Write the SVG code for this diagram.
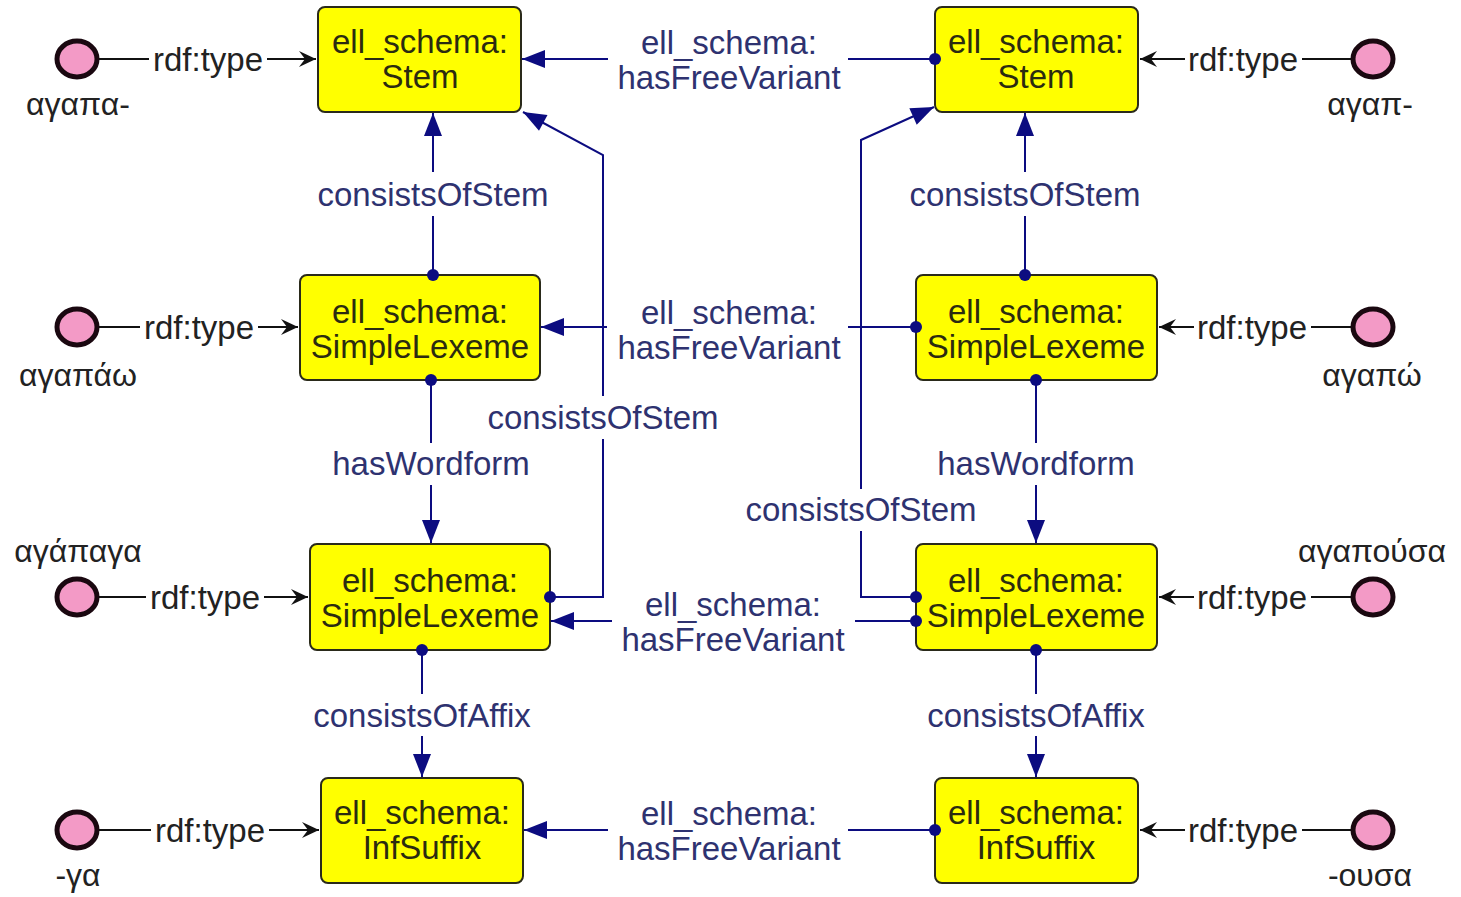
<svg xmlns="http://www.w3.org/2000/svg" width="1461" height="897" viewBox="0 0 1461 897">
<style>
.box{fill:#ffff00;stroke:#2a2a1a;stroke-width:2}
.nt{font-family:"Liberation Sans",Arial,sans-serif;font-size:33px;fill:#2b2b10;text-anchor:middle}
.el{font-family:"Liberation Sans",Arial,sans-serif;font-size:33px;fill:#2e3270;text-anchor:middle}
.rt{font-family:"Liberation Sans",Arial,sans-serif;font-size:33px;fill:#222;text-anchor:middle}
.gl{font-family:"Liberation Sans","Noto Sans",sans-serif;font-size:32px;fill:#222;text-anchor:middle}
.ind{fill:#f39ac6;stroke:#1a0810;stroke-width:5}
.bl{fill:none;stroke:#0c0c80;stroke-width:2}
.bk{fill:none;stroke:#111;stroke-width:2}
.dot{fill:#0c0c80}
</style>
<defs>
<marker id="ab" markerUnits="userSpaceOnUse" viewBox="-24 -10 26 20" refX="0" refY="0" markerWidth="26" markerHeight="20" orient="auto">
<path d="M0,0 L-23,-9 L-23,9 Z" fill="#0c0c80"/>
</marker>
<marker id="ak" markerUnits="userSpaceOnUse" viewBox="-18 -10 20 20" refX="0" refY="0" markerWidth="20" markerHeight="20" orient="auto">
<path d="M0,0 L-17,-8 L-11,0 L-17,8 Z" fill="#111"/>
</marker>
</defs>
<rect width="1461" height="897" fill="#fff"/>

<g id="stem-left"><rect class="box" x="318" y="7" width="203" height="105" rx="7"/>
<text class="nt" x="420" y="53">ell_schema:</text><text class="nt" x="420" y="88">Stem</text></g>
<g id="stem-right"><rect class="box" x="935" y="7" width="203" height="105" rx="7"/>
<text class="nt" x="1036" y="53">ell_schema:</text><text class="nt" x="1036" y="88">Stem</text></g>
<g id="lexeme-left-1"><rect class="box" x="300" y="275" width="240" height="105" rx="7"/>
<text class="nt" x="420" y="323">ell_schema:</text><text class="nt" x="420" y="358">SimpleLexeme</text></g>
<g id="lexeme-right-1"><rect class="box" x="916" y="275" width="241" height="105" rx="7"/>
<text class="nt" x="1036" y="323">ell_schema:</text><text class="nt" x="1036" y="358">SimpleLexeme</text></g>
<g id="lexeme-left-2"><rect class="box" x="310" y="544" width="240" height="106" rx="7"/>
<text class="nt" x="430" y="592">ell_schema:</text><text class="nt" x="430" y="627">SimpleLexeme</text></g>
<g id="lexeme-right-2"><rect class="box" x="916" y="544" width="241" height="106" rx="7"/>
<text class="nt" x="1036" y="592">ell_schema:</text><text class="nt" x="1036" y="627">SimpleLexeme</text></g>
<g id="suffix-left"><rect class="box" x="321" y="778" width="202" height="105" rx="7"/>
<text class="nt" x="422" y="824">ell_schema:</text><text class="nt" x="422" y="859">InfSuffix</text></g>
<g id="suffix-right"><rect class="box" x="935" y="778" width="203" height="105" rx="7"/>
<text class="nt" x="1036" y="824">ell_schema:</text><text class="nt" x="1036" y="859">InfSuffix</text></g>

<g id="ind-agapa"><ellipse class="ind" cx="77" cy="59" rx="20" ry="18"/><text class="gl" x="78" y="115">αγαπα-</text></g>
<g id="ind-agap"><ellipse class="ind" cx="1373" cy="59" rx="20" ry="18"/><text class="gl" x="1370" y="115">αγαπ-</text></g>
<g id="ind-agapao"><ellipse class="ind" cx="77" cy="327" rx="20" ry="18"/><text class="gl" x="78" y="386">αγαπάω</text></g>
<g id="ind-agapo"><ellipse class="ind" cx="1373" cy="327" rx="20" ry="18"/><text class="gl" x="1372" y="386">αγαπώ</text></g>
<g id="ind-agapaga"><ellipse class="ind" cx="77" cy="597" rx="20" ry="18"/><text class="gl" x="78" y="562">αγάπαγα</text></g>
<g id="ind-agapousa"><ellipse class="ind" cx="1373" cy="597" rx="20" ry="18"/><text class="gl" x="1372" y="562">αγαπούσα</text></g>
<g id="ind-ga"><ellipse class="ind" cx="77" cy="830" rx="20" ry="18"/><text class="gl" x="78" y="886">-γα</text></g>
<g id="ind-ousa"><ellipse class="ind" cx="1373" cy="830" rx="20" ry="18"/><text class="gl" x="1370" y="886">-ουσα</text></g>

<g id="connectors">
<path class="bk" d="M99,59 H149 M267,59 H316" marker-end="url(#ak)"/>
<text class="rt" x="208" y="71">rdf:type</text>
<path class="bk" d="M99,327 H140 M258,327 H298" marker-end="url(#ak)"/>
<text class="rt" x="199" y="339">rdf:type</text>
<path class="bk" d="M99,597 H146 M264,597 H308" marker-end="url(#ak)"/>
<text class="rt" x="205" y="609">rdf:type</text>
<path class="bk" d="M99,830 H151 M269,830 H319" marker-end="url(#ak)"/>
<text class="rt" x="210" y="842">rdf:type</text>
<path class="bk" d="M1351,59 H1302 M1185,59 H1140" marker-end="url(#ak)"/>
<text class="rt" x="1243" y="71">rdf:type</text>
<path class="bk" d="M1351,327 H1311 M1194,327 H1159" marker-end="url(#ak)"/>
<text class="rt" x="1252" y="339">rdf:type</text>
<path class="bk" d="M1351,597 H1311 M1194,597 H1159" marker-end="url(#ak)"/>
<text class="rt" x="1252" y="609">rdf:type</text>
<path class="bk" d="M1351,830 H1302 M1185,830 H1140" marker-end="url(#ak)"/>
<text class="rt" x="1243" y="842">rdf:type</text>

<path class="bl" d="M935,59 H848 M608,59 H522" marker-end="url(#ab)"/>
<circle class="dot" cx="935" cy="59" r="6"/>
<text class="el" x="729" y="54">ell_schema:</text>
<text class="el" x="729" y="89">hasFreeVariant</text>

<path class="bl" d="M916,327 H848 M607,327 H541" marker-end="url(#ab)"/>
<circle class="dot" cx="916" cy="327" r="6"/>
<text class="el" x="729" y="324">ell_schema:</text>
<text class="el" x="729" y="359">hasFreeVariant</text>

<path class="bl" d="M916,621 H855 M612,621 H551" marker-end="url(#ab)"/>
<circle class="dot" cx="916" cy="621" r="6"/>
<text class="el" x="733" y="616">ell_schema:</text>
<text class="el" x="733" y="651">hasFreeVariant</text>

<path class="bl" d="M935,830 H848 M608,830 H524" marker-end="url(#ab)"/>
<circle class="dot" cx="935" cy="830" r="6"/>
<text class="el" x="729" y="825">ell_schema:</text>
<text class="el" x="729" y="860">hasFreeVariant</text>

<path class="bl" d="M433,275 V216 M433,172 V113" marker-end="url(#ab)"/>
<circle class="dot" cx="433" cy="275" r="6"/>
<text class="el" x="433" y="206">consistsOfStem</text>
<path class="bl" d="M1025,275 V216 M1025,172 V113" marker-end="url(#ab)"/>
<circle class="dot" cx="1025" cy="275" r="6"/>
<text class="el" x="1025" y="206">consistsOfStem</text>

<path class="bl" d="M431,380 V443 M431,485 V543" marker-end="url(#ab)"/>
<circle class="dot" cx="431" cy="380" r="6"/>
<text class="el" x="431" y="475">hasWordform</text>
<path class="bl" d="M1036,380 V443 M1036,485 V543" marker-end="url(#ab)"/>
<circle class="dot" cx="1036" cy="380" r="6"/>
<text class="el" x="1036" y="475">hasWordform</text>

<path class="bl" d="M422,650 V694 M422,736 V777" marker-end="url(#ab)"/>
<circle class="dot" cx="422" cy="650" r="6"/>
<text class="el" x="422" y="727">consistsOfAffix</text>
<path class="bl" d="M1036,650 V694 M1036,736 V777" marker-end="url(#ab)"/>
<circle class="dot" cx="1036" cy="650" r="6"/>
<text class="el" x="1036" y="727">consistsOfAffix</text>

<path class="bl" d="M550,597 H603 V439 M603,396 V155 L523,112" marker-end="url(#ab)"/>
<circle class="dot" cx="550" cy="597" r="6"/>
<text class="el" x="603" y="429">consistsOfStem</text>
<path class="bl" d="M916,597 H861 V531 M861,489 V140 L934,107" marker-end="url(#ab)"/>
<circle class="dot" cx="916" cy="597" r="6"/>
<text class="el" x="861" y="521">consistsOfStem</text>
</g>
</svg>
